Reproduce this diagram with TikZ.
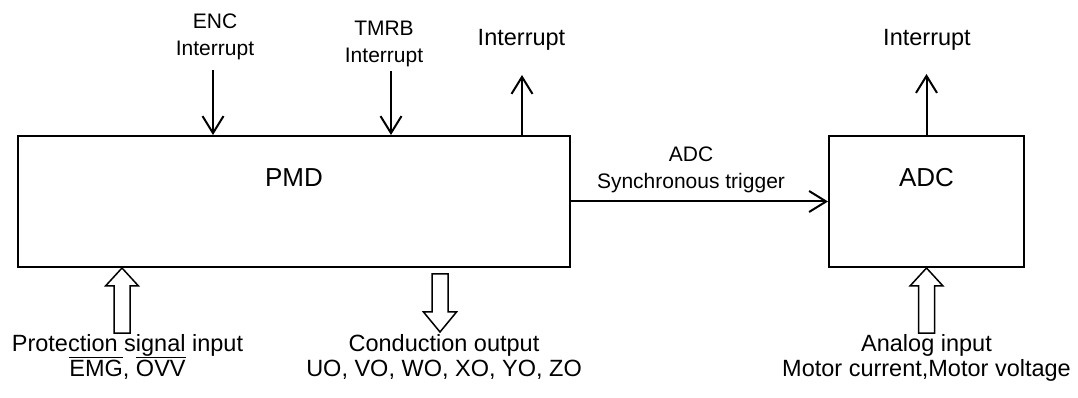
\documentclass[tikz,border=0pt]{standalone}
\usepackage{fontspec}
\setmainfont{Liberation Sans}
\usetikzlibrary{positioning,calc,arrows.meta}

\begin{document}
\begin{tikzpicture}[x=0.5pt,y=0.5pt,
  blk/.style={draw,line width=1pt,minimum height=65.5pt,inner sep=0pt},
  sig/.style={-{Straight Barb[length=8.5pt,width=10.5pt]},line width=1pt},
  fat/.style={draw,line width=0.75pt,line join=miter},
  small/.style={font=\fontsize{10.5}{14}\selectfont,align=center,inner sep=0pt},
  lbl/.style={font=\fontsize{11.75}{13}\selectfont,align=center,inner sep=0pt},
  big/.style={font=\fontsize{13}{15}\selectfont,inner sep=0pt}]
\useasboundingbox (0,0) rectangle (1078,397);
% blocks
\node[blk,minimum width=276pt] (pmd) at (294,195.5) {};
\node[blk,minimum width=97.5pt] (adc) at (926.5,195.5) {};
\node[big,anchor=base] (pmdname) at (294,210) {PMD};
\node[big,anchor=base] (adcname) at (926.5,210) {ADC};
% labels (base = last line)
\node[small,anchor=base] (enc) at (215,341) {ENC\\Interrupt};
\node[small,anchor=base] (tmrb) at (384,334) {TMRB\\Interrupt};
\node[lbl,anchor=base] (pmdint) at (521.5,351) {Interrupt};
\node[lbl,anchor=base] (adcint) at (927,351) {Interrupt};
\node[small,anchor=base] (trig) at (691,208) {ADC\\Synchronous trigger};
\node[lbl,anchor=base] (prot) at (127.5,20) {Protection signal input\\$\overline{\mbox{EMG}}$, $\overline{\mbox{OVV}}$};
\node[lbl,anchor=base] (cond) at (444,20) {Conduction output\\UO, VO, WO, XO, YO, ZO};
\node[lbl,anchor=base] (ana) at (926.5,20) {Analog input\\Motor current,Motor voltage};
% signal arrows
\coordinate (enctail) at (213,327);
\coordinate (tmrbtail) at (391,326);
\coordinate (pmdup) at (522,322);
\coordinate (adcup) at ($(adc.north)+(0,61)$);
\draw[sig] (enctail) -- (enctail |- pmd.north);
\draw[sig] (tmrbtail) -- (tmrbtail |- pmd.north);
\draw[sig] (pmdup |- pmd.north) -- (pmdup);
\draw[sig] (adc.north) -- (adcup);
\draw[sig] (pmd.east) -- (adc.west);
% hollow arrows
\coordinate (protip) at ($(pmd.south west)+(105,0)$);
\coordinate (condtip) at (440,65);
\draw[fat] (protip) -- ++(16.5,-18) -- ++(-8.5,0) -- ++(0,-47) -- ++(-16,0) -- ++(0,47) -- ++(-8.5,0) -- cycle;
\draw[fat] (condtip) -- ++(16.5,20) -- ++(-8.5,0) -- ++(0,38) -- ++(-16,0) -- ++(0,-38) -- ++(-8.5,0) -- cycle;
\draw[fat] (adc.south) -- ++(16.5,-18) -- ++(-8.5,0) -- ++(0,-47) -- ++(-16,0) -- ++(0,47) -- ++(-8.5,0) -- cycle;
\end{tikzpicture}
\end{document}
